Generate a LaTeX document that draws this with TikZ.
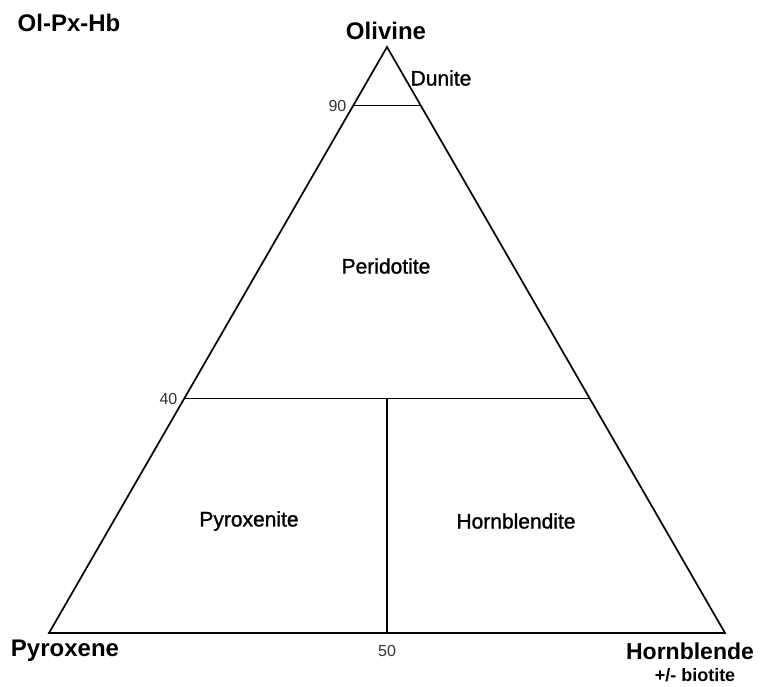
\documentclass[tikz,border=0pt]{standalone}
\usepackage{fontspec}
\setmainfont{Liberation Sans}
\newfontfamily\rockfont[FakeBold=1.2]{Liberation Sans}
\usetikzlibrary{calc,positioning}

\begin{document}
\begin{tikzpicture}[x=1pt, y=-1pt, line width=1.7pt,
  corner/.style={font=\fontsize{24}{26}\selectfont\bfseries, inner sep=0pt},
  rocktype/.style={font=\fontsize{21}{23}\rockfont, inner sep=0pt},
  tick/.style={font=\fontsize{16}{18}\selectfont, inner sep=0pt, text=black!80}]

  \useasboundingbox (0,0) rectangle (765,686);

  % Ecken des Dreiecks
  \coordinate (Ol) at (387,47);
  \coordinate (Px) at (49,633);
  \coordinate (Hb) at (725,633);

  % Feldgrenzen
  \coordinate (L90) at ($(Ol)!0.1!(Px)$);
  \coordinate (R90) at ($(Ol)!0.1!(Hb)$);
  \coordinate (L40) at ($(Ol)!0.6!(Px)$);
  \coordinate (R40) at ($(Ol)!0.6!(Hb)$);
  \coordinate (M40) at ($(L40)!0.5!(R40)$);
  \coordinate (B50) at ($(Px)!0.5!(Hb)$);

  \draw[line join=miter] (Ol) -- (Px) -- (Hb) -- cycle;
  \draw (L90) -- (R90);
  \draw (L40) -- (R40);
  \draw (M40) -- (B50);

  % Beschriftungen
  \node[corner] (title) at (69,23) {Ol-Px-Hb};
  \node[corner] (olivine) at (386,31) {Olivine};
  \node[corner] (pyroxene) at (65,651) {Pyroxene};
  \node[corner, font=\fontsize{23}{25}\selectfont\bfseries] (hornblende) at (690,651) {Hornblende};
  \node[font=\fontsize{18}{20}\selectfont\bfseries, inner sep=0pt] (biotite) at (695,675) {+/- biotite};

  \node[rocktype] (dunite) at (441,78) {Dunite};
  \node[rocktype] (peridotite) at (386,266) {Peridotite};
  \node[rocktype] (pyroxenite) at (249,521) {Pyroxenite};
  \node[rocktype] (hornblendite) at (516,521) {Hornblendite};

  \node[tick, left=6pt of L90] (t90) {90};
  \node[tick, left=6pt of L40] (t40) {40};
  \node[tick, below=11pt of B50] (t50) {50};

\end{tikzpicture}
\end{document}
